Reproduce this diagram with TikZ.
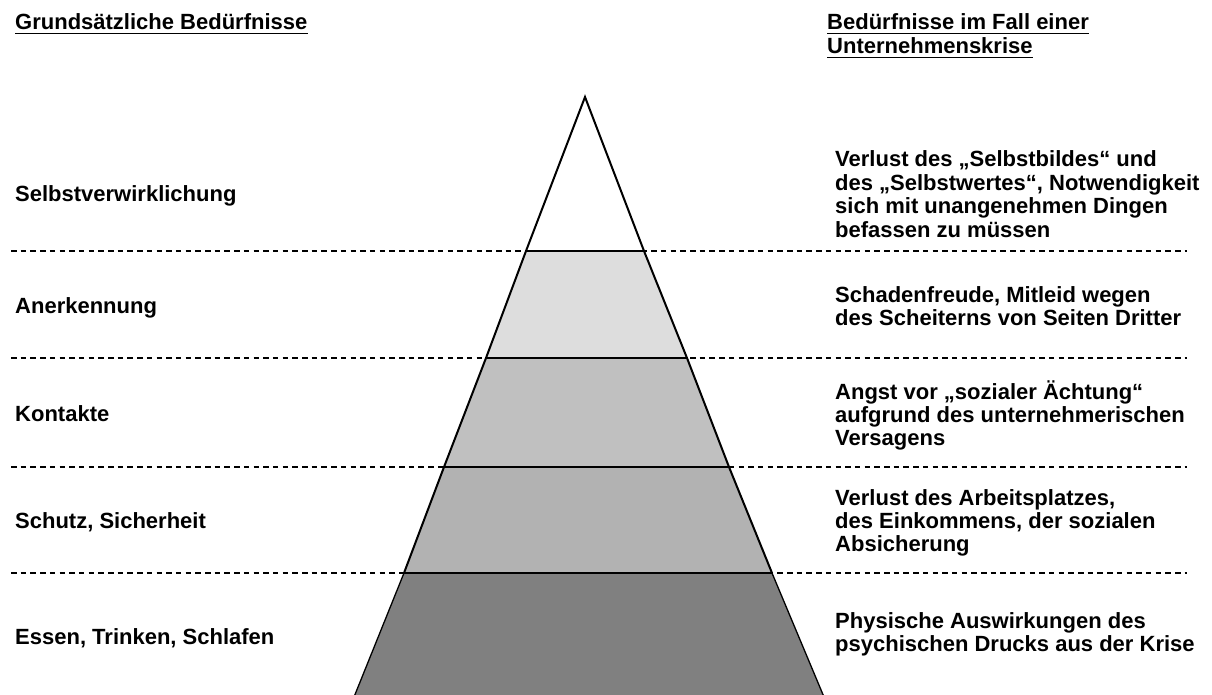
\documentclass[tikz,border=0pt]{standalone}
\usepackage{fontspec}
\setmainfont{Liberation Sans}
\usepackage{xcolor}
\usetikzlibrary{calc}
\definecolor{lvltwo}{HTML}{DDDDDD}
\definecolor{lvlthree}{HTML}{C0C0C0}
\definecolor{lvlfour}{HTML}{B2B2B2}
\definecolor{lvlfive}{HTML}{808080}

\begin{document}
\begin{tikzpicture}[x=1pt,y=-1pt]
\tikzset{txt/.style={anchor=base west,inner sep=0pt,font=\fontsize{22}{23.4}\selectfont\bfseries},
         uline/.style={line width=1.8pt},
         sepline/.style={line width=1.3pt,dash pattern=on 5.5pt off 4.2pt},
         outline/.style={line width=2pt,line join=miter}}
\useasboundingbox (0,0) rectangle (1212,695);
% Pyramid corners
\coordinate (apex) at (585,97);
\coordinate (l1) at (526,251); \coordinate (r1) at (644,251);
\coordinate (l2) at (486,358); \coordinate (r2) at (687,358);
\coordinate (l3) at (444,467); \coordinate (r3) at (729,467);
\coordinate (l4) at (404,573); \coordinate (r4) at (772,573);
\coordinate (l5) at (354,697); \coordinate (r5) at (824,697);
% Dashed level lines
\foreach \y in {251,358,467,573}
  \draw[sepline] (11,\y) -- (1187,\y);
% Levels
\fill[white] (apex) -- (l1) -- (r1) -- cycle;
\fill[lvltwo] (l1) -- (l2) -- (r2) -- (r1) -- cycle;
\fill[lvlthree] (l2) -- (l3) -- (r3) -- (r2) -- cycle;
\fill[lvlfour] (l3) -- (l4) -- (r4) -- (r3) -- cycle;
\fill[lvlfive] (l4) -- (l5) -- (r5) -- (r4) -- cycle;
\foreach \i in {1,...,4}
  \draw[line width=1.4pt] (l\i) -- (r\i);
\draw[outline] (l4) -- (l3) -- (l2) -- (l1) -- (apex) -- (r1) -- (r2) -- (r3) -- (r4);
\draw[line width=1.3pt] (l4) -- (l5);
\draw[line width=1.3pt] (r4) -- (r5);
% Headers
\node[txt] (hl) at (15,30) {Grundsätzliche Bedürfnisse};
\node[txt] (hra) at (827,30) {Bedürfnisse im Fall einer};
\node[txt] (hrb) at (827,54) {Unternehmenskrise};
\foreach \h in {hl,hra,hrb}
  \draw[uline] ($(\h.base west)+(0,3.5)$) -- ($(\h.base east)+(0,3.5)$);
% Basic needs
\foreach \n/\y/\t in {selbst/202/Selbstverwirklichung, anerk/313/Anerkennung,
    kontakt/421/Kontakte, schutz/528/{Schutz, Sicherheit}, essen/644/{Essen, Trinken, Schlafen}}
  \node[txt] (\n) at (15,\y) {\t};
% Needs in a crisis
\node[txt] (kselbst) at (835,167) {\begin{tabular}[t]{@{}l@{}}Verlust des „Selbstbildes“ und\\des „Selbstwertes“, Notwendigkeit\\sich mit unangenehmen Dingen\\befassen zu müssen\end{tabular}};
\node[txt] (kanerk) at (835,302) {\begin{tabular}[t]{@{}l@{}}Schadenfreude, Mitleid wegen\\des Scheiterns von Seiten Dritter\end{tabular}};
\node[txt] (kkontakt) at (835,399) {\begin{tabular}[t]{@{}l@{}}Angst vor „sozialer Ächtung“\\aufgrund des unternehmerischen\\Versagens\end{tabular}};
\node[txt] (kschutz) at (835,505) {\begin{tabular}[t]{@{}l@{}}Verlust des Arbeitsplatzes,\\des Einkommens, der sozialen\\Absicherung\end{tabular}};
\node[txt] (kessen) at (835,628) {\begin{tabular}[t]{@{}l@{}}Physische Auswirkungen des\\psychischen Drucks aus der Krise\end{tabular}};
\end{tikzpicture}
\end{document}
